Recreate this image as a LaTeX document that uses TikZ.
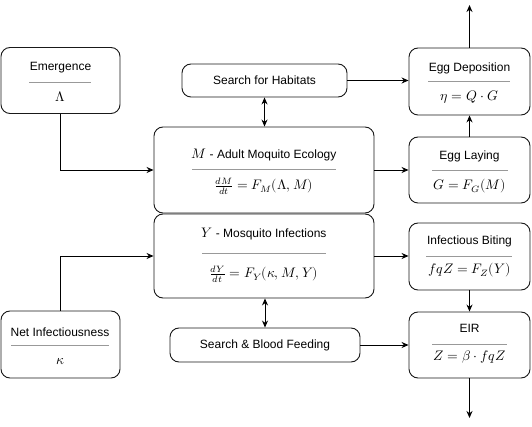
\documentclass[tikz,border=0pt]{standalone}
\usepackage{fontspec}
\setmainfont{Liberation Sans}
\usepackage{unicode-math}
\setmathfont{Latin Modern Math}[Scale=1.15]
\usetikzlibrary{arrows.meta}
\begin{document}
\begin{tikzpicture}[x=1pt,y=-1pt,
  box/.style={draw=black!90,line width=0.9pt,rounded corners=9pt,fill=white,inner sep=0pt},
  lbl/.style={inner sep=0pt,font=\fontsize{12}{14}\selectfont},
  sep/.style={draw=black!40,line width=0.8pt},
  conn/.style={draw=black,line width=0.9pt,-{Stealth[length=7pt,width=6pt]}},
  dconn/.style={draw=black,line width=0.9pt,{Stealth[length=7pt,width=6pt]}-{Stealth[length=7pt,width=6pt]}}]
\useasboundingbox (0,0) rectangle (532,427);
% boxes
\node[box,minimum width=119pt,minimum height=66pt] (em) at (60.5,80.5) {};
\node[box,minimum width=119pt,minimum height=67pt] (nk) at (60.5,344.5) {};
\node[box,minimum width=220pt,minimum height=86pt] (M) at (264,170) {};
\node[box,minimum width=220pt,minimum height=84pt] (Y) at (264,256) {};
\node[box,minimum width=165pt,minimum height=33pt] (hab) at (264.5,80.5) {};
\node[box,minimum width=190pt,minimum height=34pt] (sbf) at (265,345) {};
\node[box,minimum width=121pt,minimum height=67pt] (ed) at (469.5,81.5) {};
\node[box,minimum width=121pt,minimum height=66pt] (el) at (469.5,170) {};
\node[box,minimum width=121pt,minimum height=67pt] (ib) at (469.5,256.5) {};
\node[box,minimum width=121pt,minimum height=66pt] (eir) at (469.5,345) {};
% labels
\node[lbl] (emt) at (60.5,68) {Emergence};
\node[lbl] (emf) at (60.5,97) {$\Lambda$};
\draw[sep] (29,82) -- (91,82);
\node[lbl] (nkt) at (60,332) {Net Infectiousness};
\node[lbl] (nkf) at (60,362) {$\kappa$};
\draw[sep] (11,345) -- (109,345);
\node[lbl] (Mt) at (264,155) {$M$ - Adult Moquito Ecology};
\node[lbl] (Mf) at (264,186) {$\frac{dM}{dt}=F_M(\Lambda,M)$};
\draw[sep] (192,169) -- (336,169);
\node[lbl] (Yt) at (264,234) {$Y$ - Mosquito Infections};
\node[lbl] (Yf) at (264,274) {$\frac{dY}{dt}=F_Y(\kappa,M,Y)$};
\draw[sep] (202,253) -- (326,253);
\node[lbl] (habt) at (264.5,80.5) {Search for Habitats};
\node[lbl] (sbft) at (265,345) {Search \& Blood Feeding};
\node[lbl] (edt) at (469.5,68) {Egg Deposition};
\node[lbl] (edf) at (469.5,97) {$\eta=Q\cdot G$};
\draw[sep] (428,81) -- (510,81);
\node[lbl] (elt) at (469.5,156) {Egg Laying};
\node[lbl] (elf) at (469.5,186) {$G=F_G(M)$};
\draw[sep] (432,170) -- (508,170);
\node[lbl] (ibt) at (469.5,241) {Infectious Biting};
\node[lbl] (ibf) at (469.5,270) {$fqZ=F_Z(Y)$};
\draw[sep] (426,256) -- (512,256);
\node[lbl] (eirt) at (469.5,328) {EIR};
\node[lbl] (eirf) at (469.5,357) {$Z=\beta\cdot fqZ$};
\draw[sep] (432,344) -- (507,344);
% connectors
\coordinate (top) at (469.5,5);
\coordinate (bot) at (469.5,418);
\draw[conn] (em.south) |- (M.west);
\draw[conn] (nk.north) |- (Y.west);
\draw[dconn] (hab.south) -- (M.north -| hab.south);
\draw[dconn] (sbf.north) -- (Y.south -| sbf.north);
\draw[conn] (hab.east) -- (ed.west |- hab.east);
\draw[conn] (M.east) -- (el.west);
\draw[conn] (el.north) -- (ed.south);
\draw[conn] (ed.north) -- (top);
\draw[conn] (Y.east) -- (Y.east -| ib.west);
\draw[conn] (ib.south) -- (eir.north);
\draw[conn] (sbf.east) -- (eir.west);
\draw[conn] (eir.south) -- (bot);
\end{tikzpicture}
\end{document}
